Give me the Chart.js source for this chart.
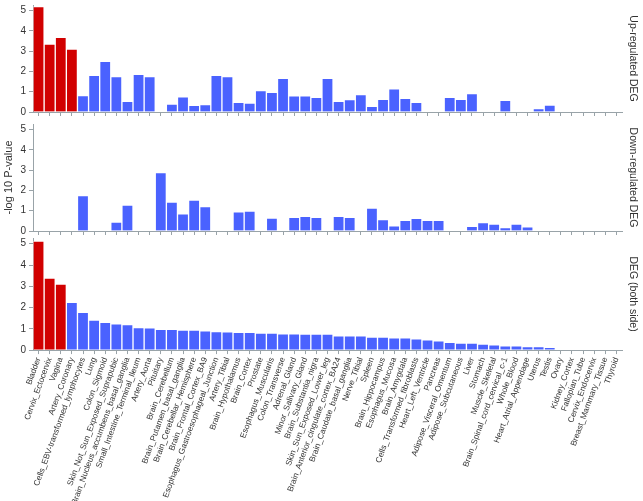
<!DOCTYPE html>
<html>
<head>
<meta charset="utf-8">
<script src="https://cdn.jsdelivr.net/npm/chart.js@4.4.0/dist/chart.umd.min.js"></script>
<style>
  html, body { margin: 0; padding: 0; background: #fff; }
  #wrap { position: relative; width: 643px; height: 501px; overflow: hidden; }
  #wrap canvas { position: absolute; left: 0; }
</style>
</head>
<body>
<div id="wrap">
  <canvas id="up"></canvas>
  <canvas id="down"></canvas>
  <canvas id="both"></canvas>
</div>
<script>
const categories = [
  "Bladder", "Cervix_Ectocervix", "Vagina", "Artery_Coronary",
  "Cells_EBV-transformed_lymphocytes", "Lung", "Colon_Sigmoid",
  "Skin_Not_Sun_Exposed_Suprapubic", "Brain_Nucleus_accumbens_basal_ganglia",
  "Small_Intestine_Terminal_Ileum", "Artery_Aorta", "Pituitary", "Brain_Cerebellum",
  "Brain_Putamen_basal_ganglia", "Brain_Cerebellar_Hemisphere", "Brain_Frontal_Cortex_BA9",
  "Esophagus_Gastroesophageal_Junction", "Artery_Tibial", "Brain_Hypothalamus",
  "Brain_Cortex", "Prostate", "Esophagus_Muscularis", "Colon_Transverse",
  "Adrenal_Gland", "Minor_Salivary_Gland", "Brain_Substantia_nigra",
  "Skin_Sun_Exposed_Lower_leg", "Brain_Anterior_cingulate_cortex_BA24",
  "Brain_Caudate_basal_ganglia", "Nerve_Tibial", "Spleen", "Brain_Hippocampus",
  "Esophagus_Mucosa", "Brain_Amygdala", "Cells_Transformed_fibroblasts",
  "Heart_Left_Ventricle", "Pancreas", "Adipose_Visceral_Omentum",
  "Adipose_Subcutaneous", "Liver", "Stomach", "Muscle_Skeletal",
  "Brain_Spinal_cord_cervical_c-1", "Whole_Blood", "Heart_Atrial_Appendage",
  "Uterus", "Testis", "Ovary", "Kidney_Cortex", "Fallopian_Tube",
  "Cervix_Endocervix", "Breast_Mammary_Tissue", "Thyroid"
];

const upRegulated = [
  5.19, 3.35, 3.68, 3.10, 0.81, 1.80, 2.50, 1.75, 0.52, 1.86,
  1.75, 0, 0.39, 0.75, 0.33, 0.36, 1.81, 1.75, 0.48, 0.44,
  1.05, 0.97, 1.66, 0.80, 0.80, 0.72, 1.66, 0.53, 0.61, 0.86,
  0.28, 0.62, 1.14, 0.67, 0.48, 0, 0, 0.72, 0.62, 0.91,
  0, 0, 0.58, 0, 0, 0.17, 0.34, 0, 0, 0,
  0, 0, 0
];

const downRegulated = [
  0, 0, 0, 0, 1.74, 0, 0, 0.44, 1.28, 0,
  0, 2.88, 1.42, 0.84, 1.52, 1.20, 0, 0, 0.95, 0.98,
  0, 0.64, 0, 0.67, 0.72, 0.67, 0, 0.72, 0.67, 0,
  1.13, 0.56, 0.26, 0.52, 0.62, 0.53, 0.53, 0, 0, 0.23,
  0.42, 0.34, 0.17, 0.34, 0.20, 0, 0, 0, 0, 0,
  0, 0, 0
];

const bothSides = [
  5.13, 3.38, 3.10, 2.25, 1.78, 1.41, 1.31, 1.23, 1.20, 1.06,
  1.05, 0.98, 0.97, 0.94, 0.94, 0.91, 0.875, 0.86, 0.83, 0.83,
  0.80, 0.80, 0.77, 0.77, 0.75, 0.75, 0.75, 0.67, 0.67, 0.67,
  0.61, 0.61, 0.58, 0.58, 0.53, 0.48, 0.44, 0.36, 0.33, 0.33,
  0.28, 0.25, 0.20, 0.20, 0.17, 0.16, 0.125, 0, 0, 0,
  0, 0, 0
];

const yTicks = [0, 1, 2, 3, 4, 5];

const RED = "#d10000";
const BLUE = "#4a62ff";
const AXIS = "#99a3a8";
const TEXT = "#333";
const Y_MAX = 5.27;
const THRESHOLD = 3; // bars above this are drawn red
const PLOT_H = 112;

Chart.defaults.font.family = "'Liberation Sans', Arial, Helvetica, sans-serif";

function panelConfig(values, sideTitle, showLabels, showYTitle, xHeight) {
  return {
    type: "bar",
    data: {
      labels: categories,
      datasets: [
        {
          data: values,
          backgroundColor: values.map((v) => (v > THRESHOLD ? RED : BLUE)),
          borderColor: "rgba(255, 255, 255, 0.45)",
          borderWidth: 1,
          barPercentage: 1,
          categoryPercentage: 1,
        },
      ],
    },
    options: {
      responsive: false,
      animation: false,
      plugins: { legend: { display: false }, tooltip: { enabled: false } },
      layout: { padding: 0 },
      scales: {
        x: {
          afterFit: (s) => {
            if (xHeight) s.height = xHeight;
          },
          grid: {
            display: true,
            drawOnChartArea: false,
            drawTicks: true,
            tickLength: 4,
            offset: false,
            color: AXIS,
          },
          border: { color: AXIS },
          ticks: {
            display: showLabels,
            autoSkip: false,
            minRotation: 70,
            maxRotation: 70,
            padding: 2,
            color: TEXT,
            font: { size: 8.25 },
          },
        },
        y: {
          min: 0,
          max: Y_MAX,
          afterBuildTicks: (s) => {
            s.ticks = yTicks.map((v) => ({ value: v }));
          },
          afterFit: (s) => {
            s.width = 33;
          },
          grid: { drawOnChartArea: false, tickLength: 4, color: AXIS },
          border: { color: AXIS },
          ticks: { color: TEXT, padding: 3, font: { size: 10 } },
          title: {
            display: showYTitle,
            text: "-log 10 P-value",
            color: TEXT,
            font: { size: 11 },
            padding: { top: 2, bottom: 0 },
          },
        },
        side: {
          axis: "y",
          position: "right",
          grid: { display: false },
          border: { display: false },
          ticks: { display: false },
          afterFit: (s) => {
            s.width = 21;
          },
          title: {
            display: true,
            text: sideTitle,
            color: TEXT,
            font: { size: 10.5 },
            padding: { top: 4, bottom: 0 },
          },
        },
      },
    },
  };
}

function buildPanel(id, values, sideTitle, showLabels, showYTitle, zeroY) {
  const canvas = document.getElementById(id);
  // first pass on a tall canvas to find the natural size of the axes
  canvas.width = 643;
  canvas.height = 800;
  let chart = new Chart(canvas, panelConfig(values, sideTitle, showLabels, showYTitle, 0));
  const topPad = chart.chartArea.top;
  const xHeight = chart.scales.x.height;
  chart.destroy();

  canvas.width = 643;
  canvas.height = Math.ceil(topPad + PLOT_H + xHeight);
  chart = new Chart(canvas, panelConfig(values, sideTitle, showLabels, showYTitle, xHeight));
  canvas.style.top = Math.round(zeroY - chart.chartArea.bottom) + "px";
  return chart;
}

buildPanel("up", upRegulated, "Up-regulated DEG", false, false, 112);
buildPanel("down", downRegulated, "Down-regulated DEG", false, true, 231);
buildPanel("both", bothSides, "DEG (both side)", true, false, 350);
</script>
</body>
</html>
